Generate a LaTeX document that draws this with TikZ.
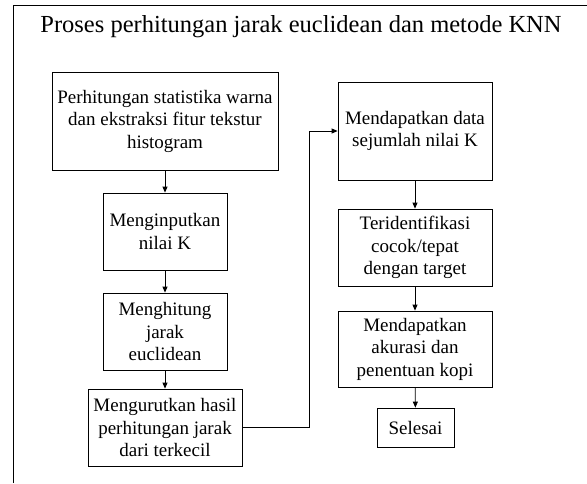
\documentclass[tikz,border=0pt]{standalone}
\usepackage{fontspec}
\setmainfont{Liberation Serif}
\usetikzlibrary{arrows.meta}
\begin{document}
\begin{tikzpicture}[x=1pt,y=-1pt,
  stepbox/.style={draw=black,line width=0.8pt,align=center,inner sep=2pt,
    font=\fontsize{19}{22.5}\selectfont},
  flow/.style={draw=black,line width=0.8pt,-{Triangle[length=6pt,width=5pt]}},
  frame/.style={draw=black,line width=0.8pt}]
\useasboundingbox (0,0) rectangle (587,483);
\fill[white] (0,0) rectangle (587,483);
\coordinate (fb) at (13.3,483);
\coordinate (ftl) at (13.3,5);
\coordinate (ftr) at (587,5);
\draw[frame] (fb) -- (ftl) -- (ftr);
\node[font=\fontsize{24.5}{28}\selectfont] (title) at (301,27) {Proses perhitungan jarak euclidean dan metode KNN};
\node[stepbox,minimum width=226pt,minimum height=98pt] (b1) at (165,121) {Perhitungan statistika warna\\dan ekstraksi fitur tekstur\\histogram};
\node[stepbox,minimum width=124pt,minimum height=77pt] (b2) at (165,231.5) {Menginputkan\\nilai K};
\node[stepbox,minimum width=124pt,minimum height=77pt] (b3) at (165,331.5) {Menghitung\\jarak\\euclidean};
\node[stepbox,minimum width=154pt,minimum height=77pt] (b4) at (165,427.5) {Mengurutkan hasil\\perhitungan jarak\\dari terkecil};
\node[stepbox,minimum width=154pt,minimum height=98pt] (b5) at (415,131) {Mendapatkan data\\sejumlah nilai K};
\node[stepbox,minimum width=154pt,minimum height=77pt] (b6) at (415,247.5) {Teridentifikasi\\cocok/tepat\\dengan target};
\node[stepbox,minimum width=154pt,minimum height=76pt] (b7) at (415,349) {Mendapatkan\\akurasi dan\\penentuan kopi};
\node[stepbox,minimum width=77pt,minimum height=39pt] (b8) at (415.5,427.5) {Selesai};
\draw[flow] (b1) -- (b2);
\draw[flow] (b2) -- (b3);
\draw[flow] (b3) -- (b4);
\coordinate (turn) at (309,0);
\draw[flow] (b4.east) -- (b4.east -| turn) -- (b5.west -| turn) -- (b5.west);
\draw[flow] (b5) -- (b6);
\draw[flow] (b6) -- (b7);
\draw[flow] (b7) -- (b8);
\end{tikzpicture}
\end{document}
